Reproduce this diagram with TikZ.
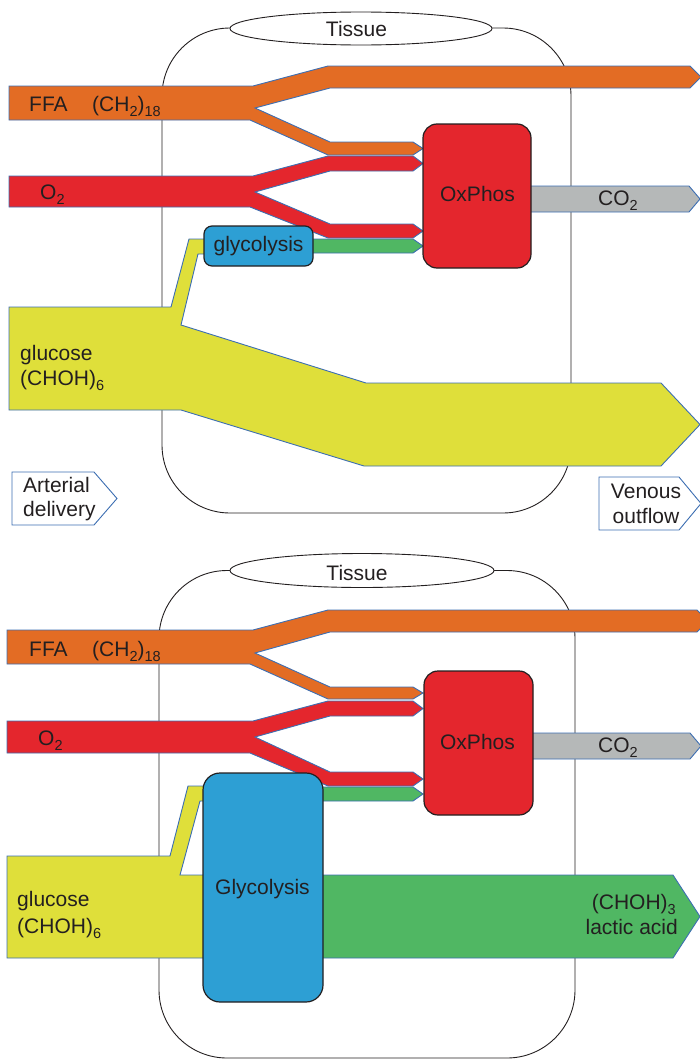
\documentclass[tikz,border=0pt]{standalone}
\usepackage{fontspec}
\setmainfont{Liberation Sans}
\usetikzlibrary{shapes.geometric}
\definecolor{ffaor}{RGB}{227,108,36}
\definecolor{oxred}{RGB}{228,38,45}
\definecolor{lacgreen}{RGB}{80,183,99}
\definecolor{glyellow}{RGB}{223,223,58}
\definecolor{cotwogray}{RGB}{181,184,184}
\definecolor{glyblue}{RGB}{45,159,212}
\definecolor{bandedge}{RGB}{60,110,178}
\definecolor{inkdark}{RGB}{35,31,32}
\newcommand{\lblfont}{\fontsize{21}{25}\selectfont}
\newcommand{\lowsub}[1]{\raisebox{-5.5pt}{\fontsize{14.5}{14.5}\selectfont #1}}
\begin{document}
\begin{tikzpicture}[x=1pt,y=-1pt,
  band/.style={draw=bandedge, line width=0.9pt, line join=miter},
  procbox/.style={draw=inkdark, line width=1.2pt, inner sep=0pt, rectangle},
  tissuebox/.style={draw=inkdark, line width=0.9pt},
  tissueoval/.style={draw=inkdark, line width=0.9pt, fill=white, ellipse, inner sep=0pt},
  lbl/.style={inner sep=0pt, text=inkdark, font=\lblfont},
  tagbox/.style={draw=bandedge, line width=0.9pt, fill=white, line join=miter}]
\useasboundingbox (0,0) rectangle (700,1060);

% ================= TOP DIAGRAM =================
\draw[tissuebox, rounded corners=68pt] (162,28) rectangle (571,513);
\node[tissueoval, minimum width=262pt, minimum height=33pt] (oval1) at (361,28.5) {};
\node[lbl, anchor=base] (tis1t) at (356.5,36) {Tissue};

% FFA band
\filldraw[band, fill=ffaor] (9,86) -- (253,86) -- (328,66) -- (690,66) -- (701,77) -- (690,88) -- (330,88) -- (255,108) -- (330,142) -- (413,142) -- (423,148.5) -- (413,155) -- (328,155) -- (250,120) -- (9,120) -- cycle;
% O2 band
\filldraw[band, fill=oxred] (9,176) -- (253,176) -- (328,156) -- (413,156) -- (423,163.5) -- (413,171) -- (330,171) -- (255,192) -- (330,224) -- (413,224) -- (423,231) -- (413,238) -- (328,238) -- (250,207) -- (9,207) -- cycle;
% green small
\filldraw[band, fill=lacgreen] (300,239) -- (413,239) -- (423,246) -- (413,253) -- (300,253) -- cycle;
% CO2
\filldraw[band, fill=cotwogray] (520,186) -- (689,186) -- (700,199) -- (689,212) -- (520,212) -- cycle;
% glucose
\filldraw[band, fill=glyellow] (9,307) -- (171,307) -- (189,239) -- (215,239) -- (215,254) -- (198,254) -- (181,325) -- (366,383) -- (661,383) -- (700,424.5) -- (661,466) -- (364,466) -- (181,410) -- (9,410) -- cycle;

% boxes
\node[procbox, fill=glyblue, rounded corners=8pt, minimum width=109pt, minimum height=40pt] (gly1) at (258.5,246) {};
\node[procbox, fill=oxred, rounded corners=14pt, minimum width=108pt, minimum height=144pt] (ox1) at (477,196) {};

% tags
\filldraw[tagbox] (12,472) -- (94,472) -- (117,498.5) -- (94,525) -- (12,525) -- cycle;
\filldraw[tagbox] (599,477) -- (679,477) -- (701,503.5) -- (679,530) -- (599,530) -- cycle;

% labels
\node[lbl, anchor=base west] (ffa1) at (29,111) {FFA};
\node[lbl, anchor=base west] (ch1) at (92,111) {(CH\lowsub{2})\lowsub{18}};
\node[lbl, anchor=base west] (o2a) at (40,199) {O\lowsub{2}};
\node[lbl, anchor=base] (gly1t) at (258.5,251) {glycolysis};
\node[lbl, anchor=base] (ox1t) at (477.5,201) {OxPhos};
\node[lbl, anchor=base] (co1t) at (618,205) {CO\lowsub{2}};
\node[lbl, anchor=base west] (glu1a) at (20,360) {glucose};
\node[lbl, anchor=base west] (glu1b) at (20,385) {(CHOH)\lowsub{6}};
\node[lbl, anchor=base west] (art1) at (23,492) {Arterial};
\node[lbl, anchor=base west] (art2) at (23,516) {delivery};
\node[lbl, anchor=base] (ven1) at (646,498) {Venous};
\node[lbl, anchor=base] (ven2) at (646,523) {outflow};

% ================= BOTTOM DIAGRAM =================
\draw[tissuebox, rounded corners=68pt] (159,570.5) rectangle (575,1058);
\node[tissueoval, minimum width=264pt, minimum height=34pt] (oval2) at (362,570.5) {};
\node[lbl, anchor=base] (tis2t) at (357,580) {Tissue};

% FFA band
\filldraw[band, fill=ffaor] (7,630) -- (253,630) -- (328,610) -- (697,610) -- (708,621) -- (697,632) -- (330,632) -- (255,653) -- (330,687) -- (413,687) -- (423,693) -- (413,699) -- (328,699) -- (250,664) -- (7,664) -- cycle;
% O2 band
\filldraw[band, fill=oxred] (7,721) -- (253,721) -- (328,701) -- (413,701) -- (423,708.5) -- (413,716) -- (330,716) -- (255,737) -- (330,772) -- (413,772) -- (423,779) -- (413,786) -- (328,786) -- (250,753) -- (7,753) -- cycle;
% green small
\filldraw[band, fill=lacgreen] (300,787) -- (413,787) -- (423,794) -- (413,801) -- (300,801) -- cycle;
% CO2
\filldraw[band, fill=cotwogray] (520,733) -- (690,733) -- (701,746) -- (690,759) -- (520,759) -- cycle;
% glucose
\filldraw[band, fill=glyellow] (7,856) -- (170,856) -- (188,786) -- (215,786) -- (215,801) -- (200,801) -- (180,875) -- (215,875) -- (215,958) -- (7,958) -- cycle;
% lactic acid
\filldraw[band, fill=lacgreen] (310,875) -- (673,875) -- (700,916.5) -- (673,958) -- (310,958) -- cycle;

% boxes
\node[procbox, fill=glyblue, rounded corners=17pt, minimum width=120pt, minimum height=229pt] (gly2) at (263,887.5) {};
\node[procbox, fill=oxred, rounded corners=14pt, minimum width=109pt, minimum height=144pt] (ox2) at (478.5,743) {};

% labels
\node[lbl, anchor=base west] (ffa2) at (29,656) {FFA};
\node[lbl, anchor=base west] (ch2) at (92,656) {(CH\lowsub{2})\lowsub{18}};
\node[lbl, anchor=base west] (o2b) at (38,745) {O\lowsub{2}};
\node[lbl, anchor=base] (ox2t) at (477.5,749) {OxPhos};
\node[lbl, anchor=base] (co2t) at (618,752) {CO\lowsub{2}};
\node[lbl, anchor=base west] (glu2a) at (17,906) {glucose};
\node[lbl, anchor=base west] (glu2b) at (17,933) {(CHOH)\lowsub{6}};
\node[lbl, anchor=base] (gly2t) at (262.5,894) {Glycolysis};
\node[lbl, anchor=base east] (lac1) at (676,909) {(CHOH)\lowsub{3}};
\node[lbl, anchor=base east] (lac2) at (678,934) {lactic acid};
\end{tikzpicture}
\end{document}
